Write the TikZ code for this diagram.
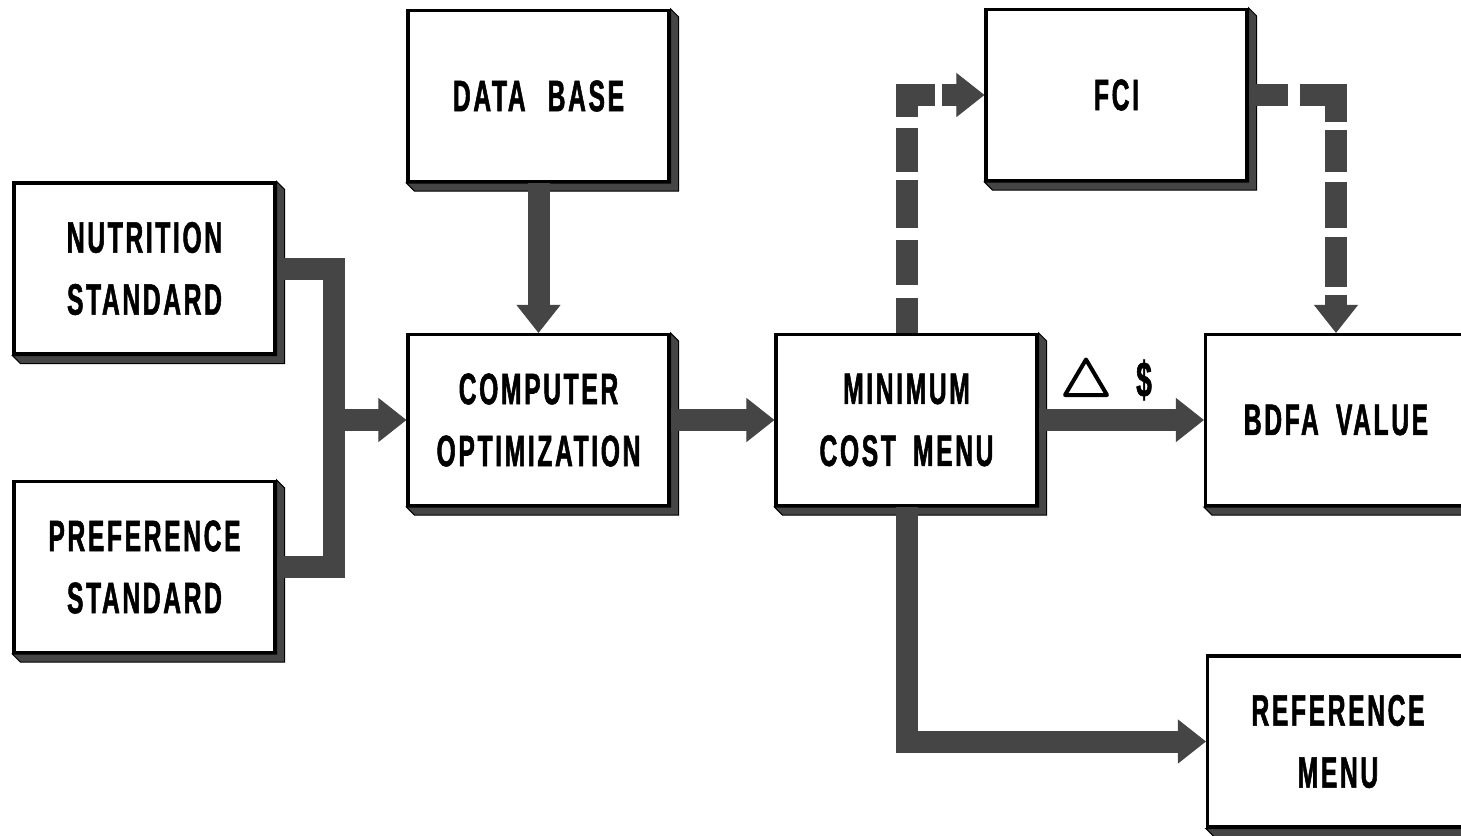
\documentclass[tikz,border=0pt]{standalone}
\usepackage{fontspec}
\newfontfamily\gothic[FakeStretch=0.56,LetterSpace=6,FakeBold=1.2,WordSpace=1.8]{Liberation Sans Bold}
\usetikzlibrary{arrows.meta,calc}
\definecolor{ink}{gray}{0.27}

\begin{document}
\begin{tikzpicture}[x=1pt,y=-1pt,
  box/.style={draw=black, line width=3.2pt, fill=white,
    minimum width=261pt, minimum height=171pt, inner sep=0pt, align=center,
    font=\gothic\fontsize{44}{62}\selectfont},
  shadowbox/.style={fill=ink, draw=black, line width=1pt, line join=miter},
  flowline/.style={draw=ink, line width=22pt, line join=miter},
  flowtip/.style={-{Triangle[length=28pt,width=44pt,line width=1pt]}},
]
\useasboundingbox (0,0) rectangle (1461,835);
\clip (0,0) rectangle (1461,835);

% blocks
\node[box] (nut)  at (144.5,268.5) {NUTRITION\\STANDARD};
\node[box] (pref) at (144.5,567)   {PREFERENCE\\STANDARD};
\node[box] (data) at (538.5,96)    {DATA\hspace{5pt} BASE};
\node[box] (comp) at (538.5,420)   {COMPUTER\\OPTIMIZATION};
\node[box] (minc) at (906.5,420)   {MINIMUM\\COST MENU};
\node[box] (fci)  at (1116.5,95)   {FCI};
\node[box] (bdfa) at (1336,420)    {BDFA VALUE};
\node[box] (ref)  at (1338,741.5)  {REFERENCE\\MENU};

% raised edge on the right and bottom of each block
\foreach \n in {nut,pref,data,comp,minc,fci,bdfa,ref}
  \filldraw[shadowbox] (\n.north east) -- ++(8,8)
    -- ($(\n.south east)+(8,8)$) -- ($(\n.south west)+(8,8)$)
    -- (\n.south west) -- (\n.south east) -- cycle;

% solid flows
\coordinate (jn) at (334,420);
\draw[flowline] (nut.east) -| (jn) |- (pref.east);
\draw[flowline,flowtip] (jn) -- (comp.west);
\draw[flowline,flowtip] (data.south) -- (comp.north);
\draw[flowline,flowtip] (comp.east) -- (minc.west);
\draw[flowline,flowtip] (minc.east) -- (bdfa.west);
\draw[flowline,flowtip] (minc.south) |- (ref.west);

% dashed flows through FCI
\draw[flowline,flowtip,dash pattern=on 35pt off 13pt on 45pt off 12pt on 48pt off 8pt on 44pt off 11pt on 50.5pt off 7pt on 100pt]
  (minc.north) |- (fci.west);
\draw[flowline,flowtip,dash pattern=on 39.5pt off 12pt on 63pt off 8pt on 42pt off 10pt on 46pt off 9pt on 50pt off 8pt on 100pt]
  (fci.east) -| (bdfa.north);

% delta-dollar label
\draw[line width=4pt, line join=round] (1065,395) -- (1086,359.5) -- (1107,395) -- cycle;
\node[font=\gothic\fontsize{50}{50}\selectfont, inner sep=0pt] (usd) at (1144,380) {\$};
\end{tikzpicture}
\end{document}
